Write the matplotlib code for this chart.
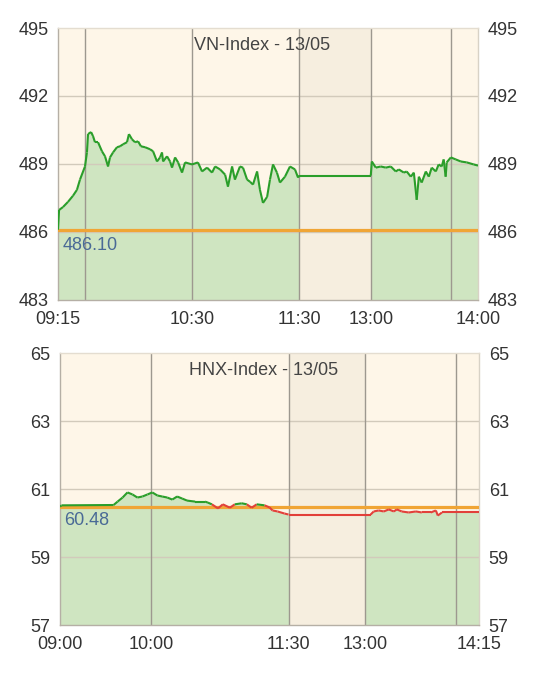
import numpy as np
import matplotlib
matplotlib.use("Agg")
from matplotlib import pyplot as plt
from matplotlib.collections import LineCollection

plt.rcParams['font.family'] = ['Liberation Sans', 'DejaVu Sans']

# VN-Index, minutes after 09:15 (morning) and after 13:00 (afternoon)
vn_am_min = [0, 0.6, 2.8, 5.6, 8.4, 10.6, 12.3, 15.1, 16.2, 16.8,
             18.5, 19.6, 20.7, 22.4, 24.6, 26.3, 28.0, 29.1, 30.8, 33.0,
             34.7, 36.4, 38.6, 39.7, 41.4, 43.1, 44.8, 46.4, 48.7, 51.5,
             53.2, 55.4, 57.1, 58.2, 58.8, 61.0, 62.7, 63.8, 65.5, 67.2,
             69.4, 71.1, 75.0, 78.3, 80.6, 83.4, 86.2, 87.9, 90.7, 93.5,
             95.1, 97.4, 99.0, 101.8, 103.5, 105.8, 107.4, 109.1, 111.4, 113.0,
             114.7, 117.0, 118.6, 120.3, 122.5, 124.2, 127.0, 129.8, 132.6, 134.3,
             135]
vn_am_val = [486.10, 486.97, 487.10, 487.33, 487.60, 487.86, 488.31, 488.89, 489.51, 490.32,
             490.41, 490.23, 489.96, 489.96, 489.56, 489.34, 488.89, 489.29, 489.51, 489.74,
             489.78, 489.87, 489.96, 490.32, 490.09, 489.96, 490.00, 489.78, 489.74, 489.65,
             489.56, 489.11, 489.29, 489.51, 489.11, 489.34, 489.11, 488.84, 489.29, 489.07,
             488.62, 489.07, 488.98, 489.07, 488.67, 488.84, 488.62, 488.89, 488.76, 488.53,
             488.00, 488.89, 488.31, 488.89, 488.84, 488.31, 488.22, 488.09, 488.67, 487.86,
             487.28, 487.55, 488.31, 488.98, 488.62, 488.18, 488.44, 488.89, 488.76, 488.40,
             488.49]
vn_pm_min = [0, 0.6, 2.8, 5.6, 8.4, 11.2, 14.0, 15.7, 18.5, 20.1,
             22.4, 24.1, 25.7, 26.9, 28.5, 30.8, 32.5, 34.1, 36.4, 38.0,
             39.7, 40.8, 41.9, 42.5, 44.8, 47.6, 50.4, 53.7, 57.6, 60]
vn_pm_val = [488.49, 489.11, 488.84, 488.89, 488.84, 488.89, 488.67, 488.76, 488.62, 488.67,
             488.44, 488.62, 487.42, 488.44, 488.18, 488.67, 488.44, 488.84, 488.67, 488.98,
             488.89, 489.20, 488.44, 489.07, 489.29, 489.20, 489.11, 489.07, 488.98, 488.93]
vn_ref = 486.10

# HNX-Index, minutes after 09:00 (morning) and after 13:00 (afternoon)
hnx_am_min = [0, 1, 35.2, 37.8, 41.1, 44.3, 47.6, 50.8, 54.1, 57.4, 60.6,
              63.9, 67.1, 70.4, 73.7, 76.9, 80.2, 83.4, 88.7, 95.2, 97.1,
              99.7, 103.7, 106.9, 111.5, 114.7, 119.3, 122.6, 125.8, 129.1, 134.3,
              137.5, 139.5, 142.8, 147.3, 150]
hnx_am_val = [60.48, 60.52, 60.53, 60.63, 60.75, 60.90, 60.84, 60.75, 60.78, 60.84, 60.90,
              60.81, 60.78, 60.75, 60.69, 60.78, 60.72, 60.66, 60.63, 60.63, 60.60,
              60.55, 60.43, 60.55, 60.45, 60.55, 60.58, 60.55, 60.45, 60.55, 60.52,
              60.46, 60.37, 60.34, 60.28, 60.25]
hnx_pm_min = [0, 3.9, 5.9, 9.2, 12.5, 15.8, 19.1, 21.1, 24.3, 28.9,
              33.6, 37.5, 43.4, 46.7, 48.0, 50.7, 57.2, 66.4, 75]
hnx_pm_val = [60.25, 60.25, 60.34, 60.37, 60.34, 60.40, 60.34, 60.40, 60.34, 60.31,
              60.34, 60.31, 60.31, 60.37, 60.22, 60.31, 60.31, 60.31, 60.31]
hnx_ref = 60.48

BG = '#fef6e8'
LUNCH = '#f6eedf'
FILL = '#cfe5c1'
GREEN = '#2a9e2a'
RED = '#e2403a'
ORANGE = '#f0a535'


def draw_panel(ax, am_t, am_v, pm_t, pm_v, am_len, gap, pm_len, ref, ylo, yhi, yticks,
               xt_pos, xt_lab, grid_pos, title, ref_txt, txt_dy):
    am_t = np.asarray(am_t); pm_t = np.asarray(pm_t) + am_len + gap
    am_v = np.asarray(am_v); pm_v = np.asarray(pm_v)
    ax.set_facecolor(BG)
    ax.axvspan(am_len, am_len + gap, color=LUNCH, lw=0, zorder=0)
    ax.fill_between(am_t, ylo, am_v, color=FILL, lw=0, zorder=1)
    ax.fill_between(pm_t, ylo, pm_v, color=FILL, lw=0, zorder=1)
    for y in yticks[1:-1]:
        ax.axhline(y, color='#d2cabb', lw=1, zorder=2)
    for x in grid_pos:
        ax.axvline(x, color='#9d988f', lw=1, zorder=2)
    ax.axhline(ref, color=ORANGE, lw=2.3, zorder=3)
    x = np.concatenate([am_t, pm_t])
    y = np.concatenate([am_v, pm_v])
    pts = np.column_stack([x, y])
    segs = np.stack([pts[:-1], pts[1:]], axis=1)
    cols = [GREEN if min(a, b) >= ref - 0.005 else RED for a, b in zip(y[:-1], y[1:])]
    ax.add_collection(LineCollection(segs, colors=cols, linewidths=1.5, zorder=4))
    ax.set_xlim(0, am_len + gap + pm_len)
    ax.set_ylim(ylo, yhi)
    ax.set_yticks(yticks)
    ax.set_xticks(xt_pos)
    ax.set_xticklabels(xt_lab)
    ax.tick_params(length=0, labelsize=13, colors='#333333', labelleft=True, labelright=True)
    ax.tick_params(axis='x', pad=8)
    ax.tick_params(axis='y', pad=7)
    for s in ax.spines.values():
        s.set_color('#b5afa5')
        s.set_linewidth(1)
    ax.spines['top'].set_color('#e4ddd0')
    ax.spines['right'].set_color('#d8d2c6')
    ax.text(0.485, 0.935, title, transform=ax.transAxes, ha='center', va='center',
            fontsize=13, color='#444444', zorder=5)
    ax.annotate(ref_txt, (0, ref), xytext=(3, txt_dy), textcoords='offset points',
                ha='left', va='top', fontsize=13, color='#4a6a96', zorder=5)


fig = plt.figure(figsize=(5.36, 6.83), dpi=100)
ax1 = fig.add_axes([0.1082, 0.5608, 0.7836, 0.3982])
ax2 = fig.add_axes([0.1119, 0.0849, 0.7817, 0.3982])

draw_panel(ax1, vn_am_min, vn_am_val, vn_pm_min, vn_pm_val, 135, 40, 60, vn_ref,
           483, 495, [483, 486, 489, 492, 495],
           [0, 75, 135, 175, 235], ['09:15', '10:30', '11:30', '13:00', '14:00'],
           [15, 75, 135, 175, 220], 'VN-Index - 13/05', '%.2f' % vn_ref, -5)

draw_panel(ax2, hnx_am_min, hnx_am_val, hnx_pm_min, hnx_pm_val, 150, 50, 75, hnx_ref,
           57, 65, [57, 59, 61, 63, 65],
           [0, 60, 150, 200, 275], ['09:00', '10:00', '11:30', '13:00', '14:15'],
           [60, 150, 200, 260], 'HNX-Index - 13/05', '%.2f' % hnx_ref, -4)

fig.savefig('out.png', dpi=100, facecolor='white')
